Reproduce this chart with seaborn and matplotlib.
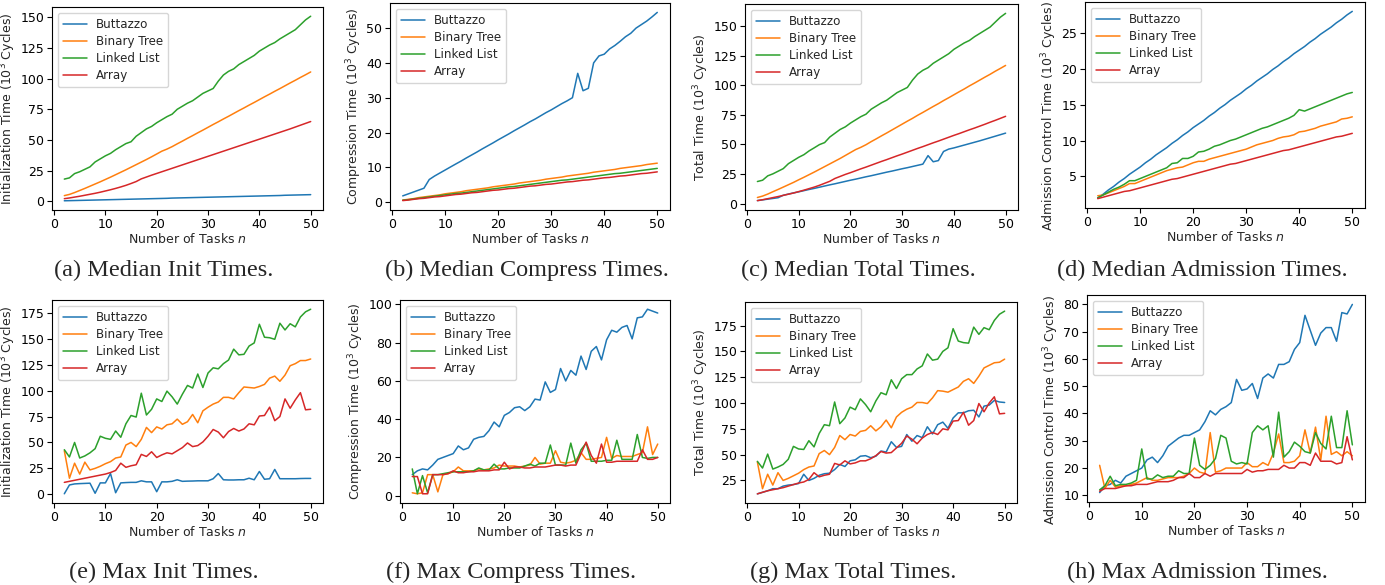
import numpy as np
import pandas as pd
import matplotlib
matplotlib.use("Agg")
import matplotlib.pyplot as plt
import seaborn as sns

n_tasks = list(range(2, 51))
series_names = ["Buttazzo", "Binary Tree", "Linked List", "Array"]

# (a) Median init
a_buttazzo = [0.3,0.4,0.5,0.6,0.7,0.8,0.9,1.0,1.1,1.2,1.3,1.4,1.5,1.6,1.7,1.8,1.9,2.0,2.1,2.2,2.3,2.5,2.6,2.7,2.8,2.9,3.0,3.1,3.2,3.3,3.4,3.5,3.6,3.7,3.8,3.9,4.0,4.1,4.2,4.3,4.4,4.5,4.6,4.8,4.9,5.0,5.1,5.2,5.3]
a_bintree = [4.5,5.5,7.0,8.7,10.4,12.2,14.0,15.8,17.7,19.6,21.6,23.6,25.6,27.7,29.8,31.9,34.0,36.2,38.5,40.8,42.5,44.5,46.8,49.0,51.3,53.5,55.8,58.0,60.3,62.6,64.8,67.1,69.3,71.6,73.9,76.1,78.4,80.6,82.9,85.2,87.4,89.7,91.9,94.2,96.5,98.7,101.0,103.2,105.5]
a_linked = [18,19,22.5,24,26,28,32,34.5,37,39,42,44.5,47,48.5,53,56,59,61,64,66.5,69,71,75,77.5,80,82,85,88,90,92,98,103,106,108,111.5,114,116.5,119,122.5,125,127.5,129.5,132.5,135,137.5,140,144,148,151]
a_array = [2.0,2.6,3.3,4.0,4.8,5.6,6.4,7.3,8.3,9.3,10.4,11.6,12.9,14.4,16.0,18.2,19.7,21.2,22.6,24.0,25.4,26.8,28.2,29.6,31.0,32.4,33.8,35.2,36.6,38.0,39.4,40.8,42.2,43.6,45.0,46.4,47.8,49.2,50.6,52.0,53.4,54.8,56.2,57.6,59.0,60.5,62.0,63.5,65.0]

# (b) Median compress
b_buttazzo = [1.8,2.35,2.9,3.45,4.0,6.5,7.5,8.37,9.23,10.1,10.96,11.8,12.7,13.55,14.4,15.3,16.15,17.0,17.9,18.75,19.6,20.5,21.35,22.2,23.1,23.9,24.8,25.7,26.5,27.4,28.3,29.1,30.0,37.0,32.0,32.7,40.0,42.0,42.5,44.0,45.0,46.2,47.5,48.5,50.0,51.0,52.0,53.2,54.5]
b_bintree = [0.6,0.8,1.0,1.3,1.5,1.7,1.9,2.1,2.4,2.6,2.8,3.0,3.3,3.5,3.7,3.9,4.1,4.4,4.6,4.8,5.0,5.2,5.5,5.7,5.9,6.1,6.3,6.6,6.8,7.0,7.2,7.5,7.7,7.9,8.1,8.3,8.6,8.8,9.0,9.2,9.4,9.7,9.9,10.1,10.3,10.5,10.8,11.0,11.2]
b_linked = [0.55,0.7,0.9,1.1,1.3,1.5,1.7,1.9,2.1,2.3,2.5,2.6,2.8,3.0,3.2,3.4,3.6,3.8,4.0,4.2,4.4,4.5,4.7,4.9,5.1,5.3,5.5,5.7,5.9,6.1,6.3,6.4,6.6,6.8,7.0,7.2,7.4,7.6,7.8,8.0,8.2,8.3,8.5,8.7,8.9,9.1,9.3,9.5,9.7]
b_array = [0.45,0.6,0.8,1.0,1.1,1.3,1.5,1.6,1.8,2.0,2.2,2.3,2.5,2.7,2.8,3.0,3.2,3.4,3.5,3.7,3.9,4.0,4.2,4.4,4.6,4.7,4.9,5.1,5.2,5.4,5.6,5.8,5.9,6.1,6.3,6.4,6.6,6.8,7.0,7.1,7.3,7.5,7.6,7.8,8.0,8.2,8.3,8.5,8.7]

# (c) Median total
c_buttazzo = [2.5,3.1,3.7,4.3,4.9,7.0,8.0,9.0,9.9,10.9,11.9,12.8,13.8,14.8,15.8,16.7,17.7,18.7,19.7,20.6,21.6,22.6,23.5,24.5,25.5,26.5,27.4,28.4,29.4,30.3,31.3,32.3,33.3,40.5,35.3,36.3,44.0,46.0,47.0,48.2,49.4,50.6,51.8,53.0,54.3,55.6,56.9,58.2,59.5]
c_bintree = [5.1,6.3,8.0,10.0,11.9,13.9,15.9,17.9,20.1,22.2,24.4,26.6,28.9,31.2,33.5,35.8,38.1,40.6,43.1,45.6,47.5,49.7,52.3,54.7,57.2,59.6,62.1,64.6,67.1,69.6,72.0,74.6,77.0,79.5,82.0,84.4,87.0,89.4,91.9,94.4,96.8,99.4,101.8,104.3,106.8,109.2,111.8,114.2,116.7]
c_linked = [18.6,19.7,23.4,25.1,27.3,29.5,33.7,36.4,39.1,41.3,44.5,47.1,49.8,51.5,56.2,59.4,62.6,64.8,68.0,70.7,73.4,75.5,79.7,82.4,85.1,87.3,90.5,93.7,95.9,98.1,104.3,109.4,112.6,114.8,118.5,121.2,123.9,126.6,130.3,133.0,135.7,137.8,141.0,143.7,146.4,149.1,153.3,157.5,160.7]
c_array = [2.45,3.2,4.1,5.0,5.9,6.9,7.9,8.9,10.1,11.3,12.6,13.9,15.4,17.1,18.8,21.2,22.9,24.6,26.1,27.7,29.3,30.8,32.4,34.0,35.6,37.1,38.7,40.3,41.8,43.4,45.0,46.6,48.1,49.7,51.3,52.8,54.4,56.0,57.6,59.1,60.7,62.3,63.8,65.4,67.0,68.7,70.3,72.0,73.7]

# (d) Median admission
d_buttazzo = [2.0,2.5,3.1,3.6,4.2,4.7,5.3,5.8,6.3,6.9,7.4,8.0,8.5,9.0,9.6,10.1,10.7,11.2,11.8,12.3,12.8,13.4,13.9,14.5,15.0,15.6,16.1,16.6,17.2,17.7,18.3,18.8,19.3,19.9,20.4,21.0,21.5,22.1,22.6,23.1,23.7,24.2,24.8,25.3,25.8,26.4,26.9,27.5,28.0]
d_bintree = [2.3,2.4,2.7,3.0,3.3,3.6,4.0,4.0,4.3,4.6,4.9,5.2,5.5,5.8,6.0,6.2,6.3,6.6,6.9,7.1,7.1,7.4,7.6,7.8,8.0,8.2,8.4,8.6,8.8,9.1,9.4,9.6,9.8,10.0,10.3,10.5,10.6,10.8,11.2,11.3,11.5,11.7,12.0,12.2,12.4,12.6,13.0,13.1,13.3]
d_linked = [2.0,2.4,2.8,3.2,3.5,3.9,4.4,4.4,4.7,5.0,5.3,5.6,5.9,6.2,6.8,6.9,7.5,7.5,7.8,8.4,8.5,8.8,9.2,9.4,9.7,10.0,10.2,10.5,10.8,11.1,11.4,11.7,11.9,12.2,12.5,12.8,13.1,13.5,14.3,14.1,14.4,14.7,15.0,15.3,15.6,15.9,16.2,16.5,16.7]
d_array = [1.9,2.1,2.3,2.5,2.7,2.9,3.0,3.2,3.4,3.6,3.8,4.0,4.2,4.4,4.6,4.7,4.9,5.1,5.3,5.5,5.7,5.9,6.1,6.3,6.5,6.7,6.8,7.0,7.2,7.4,7.6,7.8,8.0,8.2,8.4,8.6,8.7,8.9,9.1,9.3,9.5,9.7,9.9,10.1,10.3,10.5,10.6,10.8,11.0]

# (e) Max init
e_buttazzo = [0.5,9,10,10.3,10.5,10.7,1,11,11,20,1.5,11,11.3,11.5,11.5,13,12,12,2.5,12,12,12.5,14,12.5,12.7,12.8,13,13,13,15,20,14,13.8,13.8,14,14,15.5,14,22,14.5,15,24,15,15,15,15,15.2,15.3,15.3]
e_bintree = [42,15.5,30,19.5,31,23.5,25,27,29.5,31.5,35,36,47.5,50,46,53,64.5,59.5,65,63,67,68,72.5,67.5,70,77,69,80.5,84,87,89,93.5,93.5,92,98,103.5,103,102.5,104,106,112,114,109,115,124,126,129,129,130.5]
e_linked = [43,36,50,35,37,40,44,56,54,53,61,55,68,76,74.5,97.5,76.5,82,92,89.5,99.5,94,87,96.5,105,102.5,116,103,117,122,121,126,129.5,140,134.5,135,143,146,164,151.5,151,149.5,165,158.5,164.5,161.5,171,176,178.5]
e_array = [11.5,12.5,13.5,14.5,15.5,16.5,17.5,18.5,19.5,21,23,30,26,27.5,28.5,38.5,36.5,41,35.5,38,40,39,42,45,49.5,46,47,50.5,56,62.5,60,54.5,60.5,63.5,61,63,68,67,75.5,76,84,71,75,92,83,91,98,81.5,82]

# (f) Max compress
f_buttazzo = [11,13,14,13.5,16,19,20,21,22,26,24,25,29.5,30.5,31,34,38.5,36,42,43.5,46,46.5,44.5,46.5,50.5,50,59.5,54,55.5,66.5,60,65.5,63,73,66,75.5,78,71,81.5,86.5,85.5,88,89,82,93,93.5,97.5,96.5,95.5]
f_bintree = [1.5,1,1.5,11,11,2,11,11.5,12.5,15,13,13,13,14,13.5,14,14.5,16,15.5,15.5,15.5,15,15.5,16,20,16.5,17,17,23.5,17.5,17,17.5,18.5,22.5,19,19,19.5,20,30.5,19.5,21,20.5,20.5,20.5,21.5,22.5,36,21.5,27]
f_linked = [14,1,10.5,1.5,11,11,11.5,12,12.5,12.5,12.5,12.5,13,14.5,13.5,13.5,16.5,14,14,14.5,14.5,14.5,15.5,16.5,15.5,17,17,26.5,16,16,16,27.5,17,24,27.5,18,18,18,18.5,18.5,29,19,19,19,32,20,19.5,20,20]
f_array = [10,10,1,1,11,11,11,11.5,13,12,12,12.5,12.5,13,13,13,13.5,13.5,17.5,14,15,15,14.5,14.5,15,15,15,15.5,16,16,15.5,16,16,22,28,21,17,27,17.5,17.5,18,18,18,18,18,24,19,19,20]

# (g) Max total
g_buttazzo = [12,13.5,15,17,17,19.5,20.5,21,22,31,25,27,30,31.5,32,35.5,40.5,38.5,44,45,48.5,49,47,48.5,53.5,52.5,62.5,57,58,69.5,63,68.5,66.5,77,70,79,81.5,75.5,85.5,90.5,90.5,92.5,93,86.5,97,98,102.5,101,100.5]
g_bintree = [43,17,31,20.5,32.5,25,27,29.5,32,35.5,38,39,51,54,50,57,68.5,64.5,69.5,68,72.5,73.5,78,73,77,83.5,76,86.5,91,94,96,100.5,100.5,99.5,105,112,111.5,110.5,113,115.5,121,123.5,119,126,134,136.5,139,139.5,142.5]
g_linked = [43.5,37,50.5,36,38,40.5,45.5,58,55.5,55,63.5,57.5,70.5,79,78,101,80,85.5,96,93.5,104,98.5,91.5,102,110,108,122.5,114,123.5,127.5,127.5,133,136,147.5,141.5,142.5,150,153.5,172,160,158.5,158,173.5,166.5,173,171,180,186,189]
g_array = [12,13.5,15,16,17,18,19.5,21,22.5,23.5,26,32.5,28.5,30,31,41.5,40,44,41,42,44,44,46,49,53,51.5,52,56.5,61,68,65,60.5,66,69.5,71.5,69.5,75,74,82.5,83,91,78.5,83,99.5,91.5,100,106,89.5,90]

# (h) Max admission
h_buttazzo = [11,13.5,14,15.5,14.5,17,18,19,20,23,24,22,24.5,28,29.5,31,32,32,33,34,37,41,39.5,41.5,42.5,44,52.5,48.5,49,51,45.5,53,54.5,53,58,58,59,63.5,66,76,70.5,65,69.5,71.5,71.5,66.5,77,76.5,80]
h_bintree = [21,12.5,15.5,13,13.5,13.5,14,14.5,15.5,16.5,15.5,15.5,16,16.5,16.5,16.5,17,18,20,18.5,18,33,18.5,19,20,20,20,20,22,20.5,20.5,22,21,25.5,32.5,22,22,22.5,24.5,34,25.5,35,23,39,25,26,24.5,26,24.5]
h_linked = [12,13.5,17,13.5,14,14,14.5,15.5,27,16,16,17.5,16.5,17,17,19,18,18,31,21,19.5,21,23.5,32,31,22.5,21.5,22,21.5,33,35.5,34,35.5,24,40.5,24,26,29.5,28,26,25.5,33,29,27,39,27.5,27.5,41,28.5]
h_array = [11.5,12.5,12.5,12.5,13,13.5,13.5,14,14,14,14.5,15,15,15,15.5,16.5,16.5,18,16.5,16.5,18,17,18,18,18,18,18,18,19.5,18.5,19,19,19.5,19.5,19.5,21,20,20,22,22,21,25.5,22.5,22.5,22.5,21.5,22,31.5,23]

ylabels = {
    "init": "Initialization Time ($10^3$ Cycles)",
    "comp": "Compression Time ($10^3$ Cycles)",
    "total": "Total Time ($10^3$ Cycles)",
    "adm": "Admission Control Time ($10^3$ Cycles)",
}

panels = [
    ("(a) Median Init Times.", "init", [a_buttazzo, a_bintree, a_linked, a_array], (52, 323, 7, 210), (164, 270)),
    ("(b) Median Compress Times.", "comp", [b_buttazzo, b_bintree, b_linked, b_array], (390, 670, 3, 210), (527, 270)),
    ("(c) Median Total Times.", "total", [c_buttazzo, c_bintree, c_linked, c_array], (745, 1018, 4, 210), (858, 270)),
    ("(d) Median Admission Times.", "adm", [d_buttazzo, d_bintree, d_linked, d_array], (1085, 1365, 2, 208), (1202, 270)),
    ("(e) Max Init Times.", "init", [e_buttazzo, e_bintree, e_linked, e_array], (52, 323, 300, 503), (164, 572)),
    ("(f) Max Compress Times.", "comp", [f_buttazzo, f_bintree, f_linked, f_array], (400, 670, 300, 503), (511, 572)),
    ("(g) Max Total Times.", "total", [g_buttazzo, g_bintree, g_linked, g_array], (745, 1017, 302, 503), (853, 572)),
    ("(h) Max Admission Times.", "adm", [h_buttazzo, h_bintree, h_linked, h_array], (1087, 1365, 295, 502), (1197, 572)),
]

sns.set_style("ticks")
plt.rcParams["font.family"] = ["DejaVu Sans"]
plt.rcParams["axes.edgecolor"] = "black"
plt.rcParams["xtick.color"] = "black"
plt.rcParams["ytick.color"] = "black"

W, H = 1385, 585
fig = plt.figure(figsize=(W / 100, H / 100), dpi=100)
palette = sns.color_palette("tab10", 4)
FS = 9.0
LFS = 8.6

for caption, key, ys, (l, r, t, b), (cx, cy) in panels:
    ax = fig.add_axes([l / W, 1 - b / H, (r - l) / W, (b - t) / H])
    rows = []
    for name, vals in zip(series_names, ys):
        for n, v in zip(n_tasks, vals):
            rows.append({"n": n, "value": v, "series": name})
    df = pd.DataFrame(rows)
    sns.lineplot(data=df, x="n", y="value", hue="series", hue_order=series_names,
                 palette=palette, linewidth=1.1, ax=ax)
    ax.set_xlabel("Number of Tasks $n$", fontsize=FS, labelpad=1)
    ax.set_ylabel(ylabels[key], fontsize=FS, labelpad=2)
    if key == "adm":
        ax.yaxis.label.set_y(0.445)
    ax.tick_params(labelsize=FS, length=3.5, width=0.8, pad=2)
    ax.set_xticks([0, 10, 20, 30, 40, 50])
    for s in ax.spines.values():
        s.set_linewidth(0.8)
    ax.legend(loc="upper left", fontsize=LFS, title=None, handlelength=2.0,
              labelspacing=0.35, frameon=True, borderaxespad=0.5)
    fig.text(cx / W, 1 - cy / H, caption, ha="center", va="center",
             fontsize=17.5, family="Liberation Serif")

fig.savefig("out.png", dpi=100)
